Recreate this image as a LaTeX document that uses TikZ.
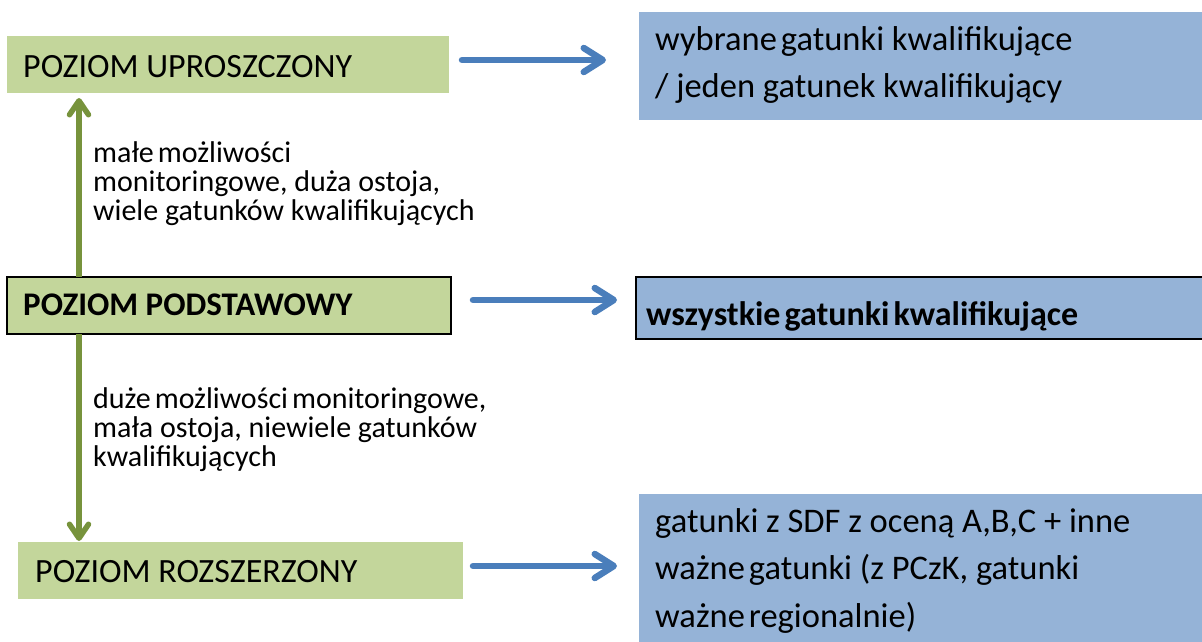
\documentclass[tikz,border=0pt]{standalone}
\usepackage{fontspec}
\setmainfont{Carlito}
\usetikzlibrary{arrows.meta}
\definecolor{gfill}{HTML}{C3D69B}
\definecolor{bfill}{HTML}{95B3D7}
\definecolor{barrow}{HTML}{4A7EBB}
\definecolor{garrow}{HTML}{77933C}
\newcommand{\lines}[1]{\begin{tabular}[t]{@{}l@{}}#1\end{tabular}}
\newcommand{\nsp}{\hskip 4pt\relax}
\begin{document}
\begin{tikzpicture}[x=1pt,y=-1pt,
  box/.style={rectangle, inner sep=0pt, outer sep=0pt, anchor=north west},
  gbox/.style={box, fill=gfill},
  bbox/.style={box, fill=bfill},
  framed/.style={draw=black, line width=1.3pt},
  txt/.style={inner sep=0pt, anchor=base west, text=black},
  gtxt/.style={txt, font=\fontsize{34}{40}\selectfont},
  btxt/.style={txt, font=\fontsize{34.5}{47.5}\selectfont},
  ltxt/.style={txt, font=\fontsize{30}{28.5}\selectfont},
  barr/.style={draw=barrow, line width=6.5pt, line cap=round,
    -{Straight Barb[length=19pt,width=24pt,round]}},
  garr/.style={draw=garrow, line width=5.5pt,
    -{Straight Barb[length=14pt,width=19pt,round]}}
]
\clip (0,0) rectangle (1202,641);
\useasboundingbox (0,0) rectangle (1202,641);

% boxes
\node[gbox, minimum width=442pt, minimum height=57pt] (up) at (7,36) {};
\node[gbox, framed, minimum width=444pt, minimum height=57pt] (base) at (7,277) {};
\node[gbox, minimum width=445pt, minimum height=57pt] (ext) at (18,542) {};
\node[bbox, minimum width=600pt, minimum height=108pt] (b1) at (639,12) {};
\node[bbox, framed, minimum width=575pt, minimum height=62pt] (b2) at (636,277) {};
\node[bbox, minimum width=600pt, minimum height=170pt] (b3) at (639,494) {};

% texts
\node[gtxt] (t1) at (23,77) {POZIOM UPROSZCZONY};
\node[gtxt, font=\fontsize{33}{40}\selectfont\bfseries] (t2) at (23,315) {POZIOM PODSTAWOWY};
\node[gtxt] (t3) at (35,582) {POZIOM ROZSZERZONY};
\node[btxt] (bt1) at (655,50) {\lines{wybrane\nsp gatunki kwalifikujące\\/ jeden gatunek kwalifikujący}};
\node[btxt, font=\fontsize{34}{47}\selectfont\bfseries] (bt2) at (646,325) {wszystkie\nsp gatunki\nsp kwalifikujące};
\node[btxt] (bt3) at (655,532) {\lines{gatunki z SDF z oceną A,B,C + inne\\ważne\nsp gatunki (z PCzK, gatunki\\ważne\nsp regionalnie)}};
\node[ltxt] (l1) at (93,162) {\lines{małe\nsp możliwości\\monitoringowe, duża ostoja,\\wiele gatunków kwalifikujących}};
\node[ltxt] (l2) at (93,408) {\lines{duże\nsp możliwości\nsp monitoringowe,\\mała ostoja, niewiele gatunków\\kwalifikujących}};

% blue arrows
\draw[barr, shorten >=33pt] (up.east) ++(13,-4.5) coordinate (a1) -- (a1 -| b1.west);
\draw[barr, shorten >=19pt] (base.east) ++(22,-5.5) coordinate (a2) -- (a2 -| b2.west);
\draw[barr, shorten >=22pt] (ext.east) ++(10,-4.5) coordinate (a3) -- (a3 -| b3.west);

% green arrows
\draw[garr, shorten >=5pt] (base.north west) ++(72,0) coordinate (g1) -- (g1 |- up.south);
\draw[garr, shorten >=1pt] (base.south west) ++(72,0) coordinate (g2) -- (g2 |- ext.north);
\end{tikzpicture}
\end{document}
